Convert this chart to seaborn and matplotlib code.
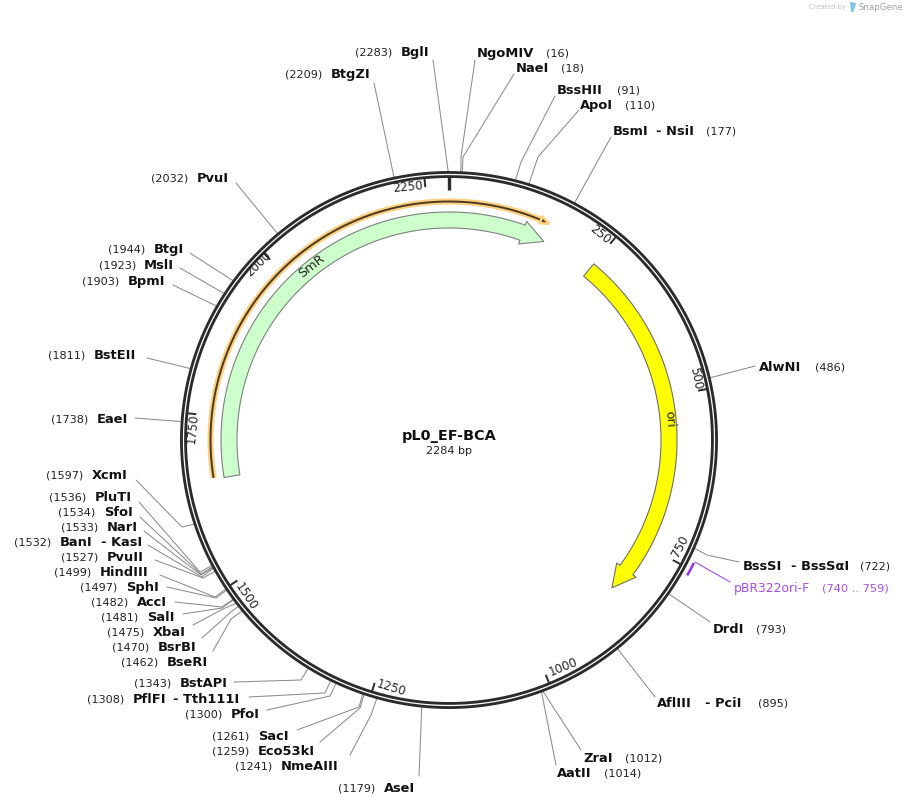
import numpy as np
import pandas as pd
import matplotlib
matplotlib.use('Agg')
import matplotlib.pyplot as plt
from matplotlib.patches import Polygon
import seaborn as sns

plasmid_name = 'pL0_EF-BCA'
plasmid_size = 2284

# enzymes with the number printed left of the name
left_names = ['BglI', 'BtgZI', 'PvuI', 'BtgI', 'MslI', 'BpmI', 'BstEII', 'EaeI', 'XcmI',
              'PluTI', 'SfoI', 'NarI', 'BanI', 'PvuII', 'HindIII', 'SphI', 'AccI', 'SalI',
              'XbaI', 'BsrBI', 'BseRI', 'BstAPI', 'PflFI', 'PfoI', 'SacI', 'Eco53kI',
              'NmeAIII', 'AseI']
left_sites = [2283, 2209, 2032, 1944, 1923, 1903, 1811, 1738, 1597,
              1536, 1534, 1533, 1532, 1527, 1499, 1497, 1482, 1481,
              1475, 1470, 1462, 1343, 1308, 1300, 1261, 1259,
              1241, 1179]
left_num_x = [355, 285, 151, 108, 99, 82, 48, 51, 46,
              49, 58, 61, 14, 61, 54, 80, 91, 101,
              107, 112, 121, 134, 87, 185, 212, 212,
              235, 338]
left_name_x = [401, 331, 197, 154, 144, 128, 94, 97, 92,
               95, 104, 107, 60, 107, 100, 126, 137, 147,
               153, 158, 167, 180, 133, 231, 258, 258,
               281, 384]
left_y = [52, 74, 178, 249, 265, 281, 355, 419, 475,
          497, 512, 527, 542, 557, 572, 587, 602, 617,
          632, 647, 662, 683, 699, 714, 736, 751,
          766, 788]
left_ends = [(433, 60), (374, 83), (236, 183), (190, 253), (180, 268), (173, 285), (147, 358),
             (135, 418), (136, 480), (139, 502), (140, 517), (144, 531), (148, 545), (155, 560),
             (160, 575), (167, 587), (175, 602), (183, 614), (193, 625), (202, 638), (213, 651),
             (234, 682), (249, 697), (267, 710), (297, 730), (320, 742), (350, 755), (419, 776)]
left_elbows = [None, None, None, None, None, None, None,
               None, (182, 527), (200, 572), (201, 574), (201, 575), (202, 577), (203, 578),
               (215, 597), (216, 598), (222, 607), (222, 608), (223, 609), (232, 611), (231, 619),
               (301, 680), (325, 693), (330, 696), (359, 707), (360, 708), (371, 715), None]

# enzymes with the number printed right of the name
right_names = ['NgoMIV', 'NaeI', 'BssHII', 'ApoI', 'BsmI', 'AlwNI', 'BssSI', 'DrdI', 'AflIII',
               'ZraI', 'AatII']
right_sites = [16, 18, 91, 110, 177, 486, 722, 793, 895, 1012, 1014]
right_name_x = [477, 516, 557, 580, 613, 759, 743, 713, 657, 583, 557]
right_num_x = [546, 561, 617, 625, 706, 815, 860, 756, 758, 625, 604]
right_y = [53, 68, 90, 105, 131, 367, 566, 629, 703, 758, 773]
right_ends = [(475, 60), (514, 74), (555, 96), (579, 110), (611, 137), (755, 366), (739, 562),
              (710, 622), (655, 697), (581, 750), (556, 765)]
right_elbows = [(461, 157), (463, 157), (521, 162), (538, 157), None, None, (707, 555),
                None, None, None, None]

# second name of the double sites
second_names = ['- KasI', '- Tth111I', '- NsiI', '- BssSαI', '- PciI']
second_x = [101, 173, 656, 791, 705]
second_y = [542, 699, 131, 566, 703]

# ruler
tick_bp = [250, 500, 750, 1000, 1250, 1500, 1750, 2000, 2250]
tick_text_x = [600, 696, 680, 563, 391, 246, 193, 258, 408]
tick_text_y = [234, 378, 546, 667, 688, 597, 429, 264, 187]

# features: start, tip
smr_span = (1653, 162)
ori_span = (250, 839)
orange_span = (1655, 158)
primer_name = 'pBR322ori-F'
primer_span = (740, 759)

cx, cy = 449, 440
ring_r = 265.5
site_r = 268


def bp_angle(bp):
    return np.radians(bp / plasmid_size * 360)


def polar(bp, r):
    a = bp_angle(bp)
    return cx + r * np.sin(a), cy - r * np.cos(a)


def arc(start, end, r, n=200):
    if end < start:
        end += plasmid_size
    bps = np.linspace(start, end, n)
    return polar(bps, r)


def arrow_poly(span, r_in, r_out, barb, head_bp=38):
    start, tip = span
    base = tip - head_bp
    xo, yo = arc(start, base, r_out)
    xi, yi = arc(start, base, r_in)
    pts = list(zip(xo, yo))
    pts.append(polar(base, r_out + barb))
    pts.append(polar(tip, (r_in + r_out) / 2))
    pts.append(polar(base, r_in - barb))
    pts += list(zip(xi[::-1], yi[::-1]))
    return pts


def leader_rows(sites, ends, elbows):
    rows = []
    for site, end, elbow in zip(sites, ends, elbows):
        pts = [end] + ([elbow] if elbow else []) + [polar(site, site_r)]
        for i, p in enumerate(pts):
            rows.append({'site': site, 'order': i, 'x': p[0], 'y': p[1]})
    return rows


sns.set_theme(style='white')
plt.rcParams['font.family'] = ['DejaVu Sans']

fig = plt.figure(figsize=(9.07, 8.06), dpi=100)
ax = fig.add_axes([0, 0, 1, 1])

leaders = pd.DataFrame(leader_rows(left_sites, left_ends, left_elbows)
                       + leader_rows(right_sites, right_ends, right_elbows))
sns.lineplot(data=leaders, x='x', y='y', units='site', estimator=None, sort=False,
             color='#8c8c8c', lw=0.75, legend=False, ax=ax, zorder=1)

# backbone
ring = pd.DataFrame(dict(zip(('x', 'y'), arc(0, plasmid_size, ring_r, 720))))
sns.lineplot(data=ring, x='x', y='y', estimator=None, sort=False, color='#2b2b2b', lw=5,
             legend=False, ax=ax, zorder=3)
sns.lineplot(data=ring, x='x', y='y', estimator=None, sort=False, color='white', lw=0.9,
             legend=False, ax=ax, zorder=4)

# ruler
for bp, tx, ty in zip(tick_bp, tick_text_x, tick_text_y):
    x0, y0 = polar(bp, 264)
    x1, y1 = polar(bp, 254)
    ax.plot([x0, x1], [y0, y1], color='#2b2b2b', lw=1.4, solid_capstyle='butt', zorder=3)
    deg = bp / plasmid_size * 360
    rot = -deg if deg < 90 or deg > 270 else 180 - deg
    ax.text(tx, ty, str(bp), fontsize=8.6, rotation=rot, rotation_mode='anchor',
            ha='center', va='center', color='#222222')
ax.plot([cx, cx], [176, 190], color='#2b2b2b', lw=2.4, solid_capstyle='butt', zorder=3)

# features
ax.add_patch(Polygon(arrow_poly(smr_span, 212, 228, 4), closed=True, fc='#ccffcc', ec='#7f7f7f',
                     lw=0.8, zorder=2))
ax.add_patch(Polygon(arrow_poly(ori_span, 212, 228, 4), closed=True, fc='#ffff00', ec='#6f6f6f',
                     lw=0.8, zorder=2))
ox, oy = arc(orange_span[0], orange_span[1] - 14, 238.5, 300)
ax.plot(ox, oy, color='#ffcf80', lw=4.4, solid_capstyle='butt', zorder=2)
ax.plot(ox, oy, color='#4a3a20', lw=1.4, solid_capstyle='butt', zorder=2)
head = [polar(orange_span[1] - 14, 242), polar(orange_span[1], 238.5), polar(orange_span[1] - 14, 235)]
ax.add_patch(Polygon(head, closed=True, fc='#4a3a20', ec='#ffcf80', lw=1.8, joinstyle='miter', zorder=2))
ax.text(312, 266, 'SmR', fontsize=9.2, rotation=38, ha='center', va='center', color='#222222', zorder=5)
ax.text(669, 419, 'ori', fontsize=9.2, rotation=-85, ha='center', va='center', color='#222222', zorder=5)

# primer
px, py = arc(primer_span[0], primer_span[1], 274, 20)
ax.plot(px, py, color='#9b30f0', lw=1.8, solid_capstyle='butt', zorder=3)
ax.plot([730, 695], [582, 562], color='#a64df2', lw=0.8, zorder=1)
ax.text(734, 588.5, primer_name, fontsize=8.9, color='#a64df2', va='center')
ax.text(822, 588.5, f'({primer_span[0]} .. {primer_span[1]})', fontsize=8.2, color='#a64df2', va='center')

# labels
for name, site, nx, lx, y in zip(left_names, left_sites, left_num_x, left_name_x, left_y):
    ax.text(nx, y + 0.4, f'({site})', fontsize=8.1, color='#222222', va='center')
    ax.text(lx, y + 0.9, name, fontsize=9.4, fontweight='bold', color='#111111', va='center')
for name, site, nx, lx, y in zip(right_names, right_sites, right_num_x, right_name_x, right_y):
    ax.text(lx, y + 0.9, name, fontsize=9.4, fontweight='bold', color='#111111', va='center')
    ax.text(nx, y + 0.4, f'({site})', fontsize=8.1, color='#222222', va='center')
for name, x, y in zip(second_names, second_x, second_y):
    ax.text(x, y + 0.9, name, fontsize=9.4, fontweight='bold', color='#111111', va='center')

ax.text(449, 436, plasmid_name, fontsize=10.4, fontweight='bold', ha='center', va='center', color='#111111')
ax.text(449, 450.5, f'{plasmid_size} bp', fontsize=8, ha='center', va='center', color='#222222')

# watermark
ax.text(809, 7, 'Created by', fontsize=4.8, color='#c4c4c4', va='center')
ax.add_patch(Polygon([(850, 2), (856, 3), (855, 8), (853, 12), (851, 12)], closed=True,
                     fc='#7fc4e8', ec='none'))
ax.text(858, 7.5, 'SnapGene', fontsize=6.2, color='#a0a0a0', va='center')

ax.set_xlim(0, 907)
ax.set_ylim(806, 0)
ax.set_axis_off()
fig.savefig('out.png', dpi=100, facecolor='white')
